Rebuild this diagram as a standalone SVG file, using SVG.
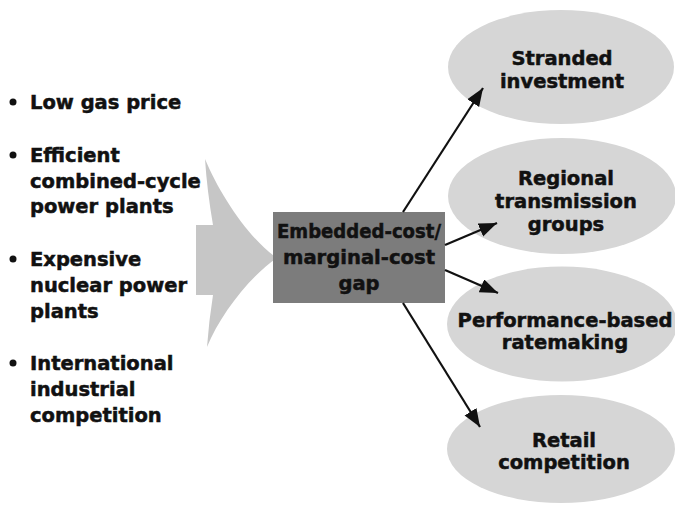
<svg xmlns="http://www.w3.org/2000/svg" width="675" height="505" viewBox="0 0 675 505">
<style>
text{font-family:"DejaVu Sans","Liberation Sans",sans-serif;font-weight:bold;font-size:19.5px;fill:#111;stroke:#111;stroke-width:0.5}
.c{text-anchor:middle}
.ell{fill:#d6d6d6}
.conn{stroke:#111;stroke-width:2.2;fill:none}
</style>
<defs>
<marker id="ah" markerUnits="userSpaceOnUse" markerWidth="20" markerHeight="16" refX="18" refY="7" orient="auto">
<path d="M0,0 L18,7 L0,14 Z" fill="#111"/>
</marker>
</defs>
<rect width="675" height="505" fill="#fff"/>
<g id="causes">
<circle cx="13" cy="102" r="3.5" fill="#111"/>
<text x="30" y="109">Low gas price</text>
<circle cx="13" cy="155" r="3.5" fill="#111"/>
<text x="30" y="162">Efficient</text>
<text x="30" y="188">combined-cycle</text>
<text x="30" y="213">power plants</text>
<circle cx="13" cy="259" r="3.5" fill="#111"/>
<text x="30" y="266">Expensive</text>
<text x="30" y="292">nuclear power</text>
<text x="30" y="318">plants</text>
<circle cx="13" cy="363" r="3.5" fill="#111"/>
<text x="30" y="370">International</text>
<text x="30" y="396">industrial</text>
<text x="30" y="422">competition</text>
</g>
<g id="funnel">
<path d="M196,225 L213,225 Q207,190 205,159 C220,195 250,240 277,258 C250,276 220,315 207,347 Q209,320 213,295 L196,295 Z" fill="#c6c6c6"/>
</g>
<g id="gap">
<rect x="273" y="212" width="172" height="91" fill="#7c7c7c"/>
<text class="c" x="359" y="238" textLength="164" lengthAdjust="spacingAndGlyphs">Embedded-cost/</text>
<text class="c" x="359" y="264" textLength="152" lengthAdjust="spacingAndGlyphs">marginal-cost</text>
<text class="c" x="359" y="290">gap</text>
</g>
<g id="stranded">
<ellipse class="ell" cx="561" cy="67" rx="113" ry="57"/>
<text class="c" x="562" y="65">Stranded</text>
<text class="c" x="562" y="88">investment</text>
</g>
<g id="regional">
<ellipse class="ell" cx="562" cy="196" rx="114" ry="58"/>
<text class="c" x="566" y="185">Regional</text>
<text class="c" x="566" y="208">transmission</text>
<text class="c" x="566" y="231">groups</text>
</g>
<g id="performance">
<ellipse class="ell" cx="562" cy="324" rx="115" ry="57.5"/>
<text class="c" x="565" y="327">Performance-based</text>
<text class="c" x="565" y="349">ratemaking</text>
</g>
<g id="retail">
<ellipse class="ell" cx="561" cy="449" rx="114" ry="54"/>
<text class="c" x="564" y="447">Retail</text>
<text class="c" x="564" y="469">competition</text>
</g>
<g id="connectors">
<line class="conn" x1="403" y1="212" x2="483" y2="88" marker-end="url(#ah)"/>
<line class="conn" x1="445" y1="245" x2="497" y2="223" marker-end="url(#ah)"/>
<line class="conn" x1="445" y1="270" x2="498" y2="293" marker-end="url(#ah)"/>
<line class="conn" x1="403" y1="303" x2="480" y2="427" marker-end="url(#ah)"/>
</g>
</svg>
